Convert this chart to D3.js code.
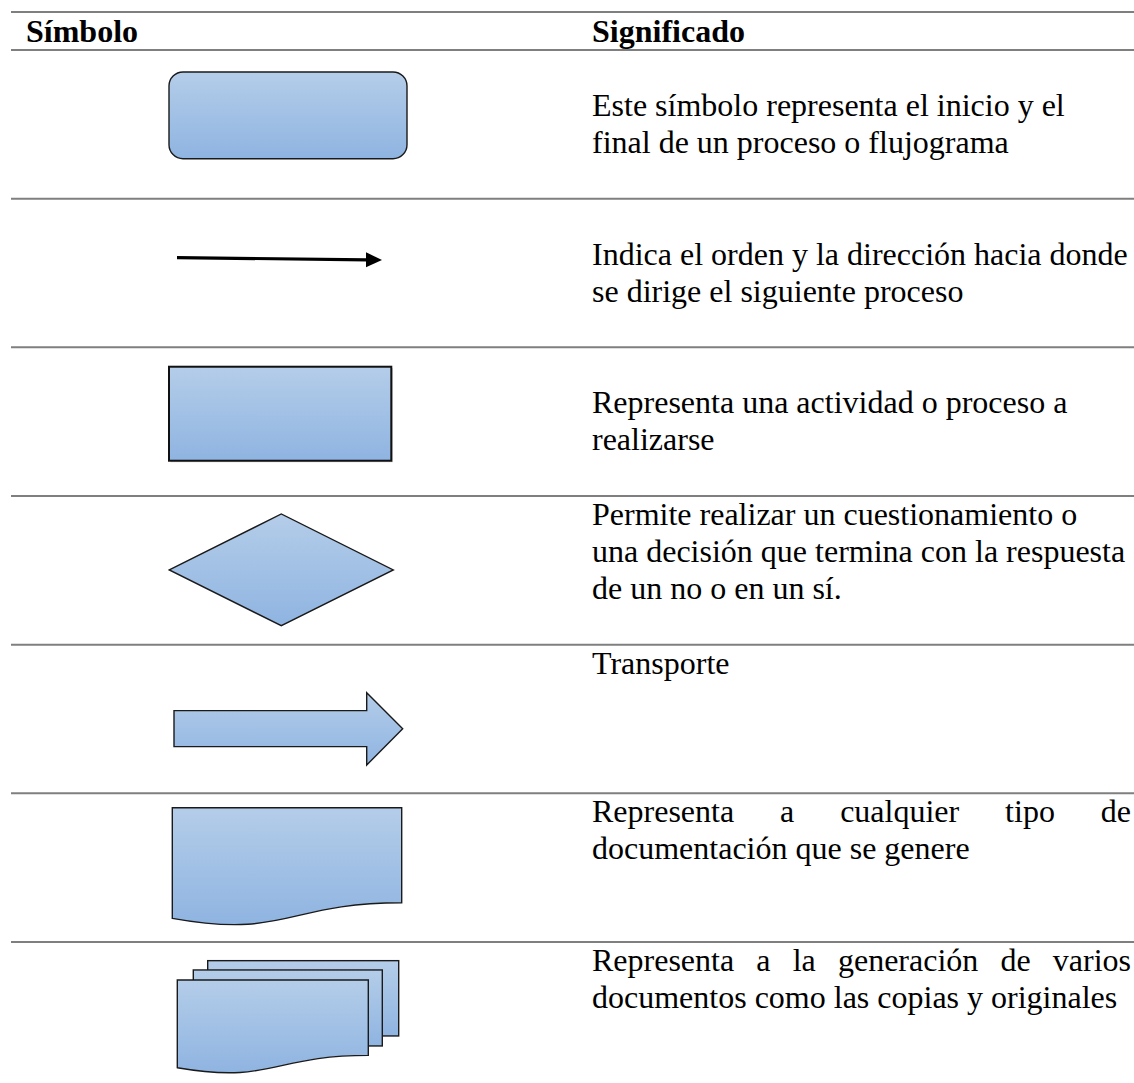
<!DOCTYPE html>
<html>
<head>
<meta charset="utf-8">
<script src="https://cdn.jsdelivr.net/npm/d3@7"></script>
<style>
  html, body { margin: 0; padding: 0; background: #fff; }
  svg { display: block; }
  text { font-family: "Liberation Serif", "Times New Roman", serif; fill: #000; }
</style>
</head>
<body>
<div id="chart"></div>
<script>
// ---- data ----
const headers = ["Símbolo", "Significado"];
const symbols = ["terminal", "flecha", "proceso", "decision", "transporte", "documento", "multidocumento"];
const descriptions = [
  ["", "Este símbolo representa el inicio y el", "final de un proceso o flujograma"],
  ["", "Indica el orden y la dirección hacia donde", "se dirige el siguiente proceso"],
  ["", "Representa una actividad o proceso a", "realizarse"],
  ["Permite realizar un cuestionamiento o", "una decisión que termina con la respuesta", "de un no o en un sí."],
  ["Transporte"],
  ["Representa a cualquier tipo de", "documentación que se genere"],
  ["Representa a la generación de varios", "documentos como las copias y originales"]
];
const justified = [
  [false, false, false],
  [false, false, false],
  [false, false, false],
  [false, false, false],
  [false],
  [true, false],
  [true, false]
];

// ---- layout ----
const W = 1134, H = 1083;
const svg = d3.select("#chart").append("svg").attr("width", W).attr("height", H);
const defs = svg.append("defs");
const grad = defs.append("linearGradient").attr("id", "blueGrad")
  .attr("x1", 0).attr("y1", 0).attr("x2", 0).attr("y2", 1);
grad.append("stop").attr("offset", "0%").attr("stop-color", "#b4cde9");
grad.append("stop").attr("offset", "100%").attr("stop-color", "#8fb4e1");

const lineX0 = 11, lineX1 = W;
const headerTop = 12, headerBottom = 50;
const y = d3.scaleBand().domain(symbols).range([headerBottom, headerBottom + 7 * 148.66]).padding(0);
const colSym = 26, colText = 592, colTextRight = 1131;
const fontSize = 32, lineStep = 37, firstBaseline = 29;

// rules
const rules = [headerTop, headerBottom].concat(symbols.slice(1).map(s => y(s)));
svg.selectAll("line.rule").data(rules).join("line")
  .attr("class", "rule")
  .attr("x1", lineX0).attr("x2", lineX1)
  .attr("y1", d => d).attr("y2", d => d)
  .attr("stroke", "#7f7f7f").attr("stroke-width", 2);

// headers
svg.selectAll("text.hdr").data(headers).join("text")
  .attr("class", "hdr")
  .attr("x", (d, i) => i === 0 ? colSym : colText)
  .attr("y", 42)
  .attr("font-size", fontSize)
  .attr("font-weight", "bold")
  .text(d => d);

// descriptions
symbols.forEach((s, i) => {
  const top = y(s);
  descriptions[i].forEach((ln, j) => {
    if (!ln) return;
    const by = top + firstBaseline + j * lineStep;
    if (justified[i][j]) {
      const words = ln.split(" ");
      const g = svg.append("g");
      const nodes = words.map(w => g.append("text").attr("font-size", fontSize).attr("y", by).text(w));
      const widths = nodes.map(n => n.node().getComputedTextLength());
      const total = d3.sum(widths);
      const gap = (colTextRight - colText - total) / (words.length - 1);
      let x = colText;
      nodes.forEach((n, k) => { n.attr("x", x); x += widths[k] + gap; });
    } else {
      svg.append("text").attr("font-size", fontSize).attr("x", colText).attr("y", by).text(ln);
    }
  });
});

// ---- symbols ----
const stroke = "#1a1a1a";
function shapeStyle(sel) {
  return sel.attr("fill", "url(#blueGrad)").attr("stroke", stroke).attr("stroke-width", 1.4).attr("stroke-linejoin", "miter");
}
function docPath(x, yy, w, h) {
  const p = d3.path();
  p.moveTo(x, yy);
  p.lineTo(x + w, yy);
  p.lineTo(x + w, yy + 0.802 * h);
  p.bezierCurveTo(x + 0.5 * w, yy + 0.802 * h, x + 0.5 * w, yy + 1.1075 * h, x, yy + 0.934 * h);
  p.closePath();
  return p.toString();
}

// 1 terminal (rounded rectangle)
{
  const t = y("terminal");
  shapeStyle(svg.append("rect").attr("x", 169).attr("y", t + 22).attr("width", 238).attr("height", 86.7).attr("rx", 14).attr("ry", 14));
}
// 2 flow arrow
{
  const t = y("flecha");
  const x0 = 177, y0 = t + 59, x1 = 382, y1 = t + 61.3, headL = 16, headH = 7.5;
  const ang = Math.atan2(y1 - y0, x1 - x0);
  const bx = x1 - headL * Math.cos(ang), by = y1 - headL * Math.sin(ang);
  svg.append("line").attr("x1", x0).attr("y1", y0).attr("x2", bx + 1).attr("y2", by)
    .attr("stroke", "#000").attr("stroke-width", 3.2);
  const p = d3.path();
  p.moveTo(x1, y1);
  p.lineTo(bx - headH * Math.sin(ang), by - headH * Math.cos(ang) * -1 * -1 - 0);
  p.lineTo(bx + headH * Math.sin(ang), by + headH);
  p.closePath();
  svg.append("path").attr("d", `M${x1},${y1}L${bx},${by - headH}L${bx},${by + headH}Z`).attr("fill", "#000");
}
// 3 process rectangle
{
  const t = y("proceso");
  svg.append("rect").attr("x", 170.5).attr("y", t + 20.9).attr("width", 222.3).attr("height", 94)
    .attr("fill", "#c8c8c8");
  shapeStyle(svg.append("rect").attr("x", 169).attr("y", t + 19.4).attr("width", 222.3).attr("height", 94))
    .attr("stroke-width", 2).attr("stroke", "#111");
}
// 4 decision diamond
{
  const t = y("decision");
  const pts = [[169.3, t + 74], [281.3, t + 18], [393.3, t + 74], [281.3, t + 129.7]];
  shapeStyle(svg.append("path").attr("d", d3.line()(pts) + "Z"));
}
// 5 block arrow (transport)
{
  const t = y("transporte");
  const pts = [[174, t + 66], [366.7, t + 66], [366.7, t + 48], [402.7, t + 84], [366.7, t + 120.4], [366.7, t + 102], [174, t + 102]];
  shapeStyle(svg.append("path").attr("d", d3.line()(pts) + "Z"));
}
// 6 document
{
  const t = y("documento");
  shapeStyle(svg.append("path").attr("d", docPath(172.3, t + 14.4, 229.4, 118.5)));
}
// 7 multi-document
{
  const t = y("multidocumento");
  shapeStyle(svg.append("rect").attr("x", 207.7).attr("y", t + 18.7).attr("width", 191).attr("height", 75.3));
  shapeStyle(svg.append("rect").attr("x", 193.3).attr("y", t + 28).attr("width", 189).attr("height", 76));
  shapeStyle(svg.append("path").attr("d", docPath(177.3, t + 38, 191, 94)));
}
</script>
</body>
</html>
